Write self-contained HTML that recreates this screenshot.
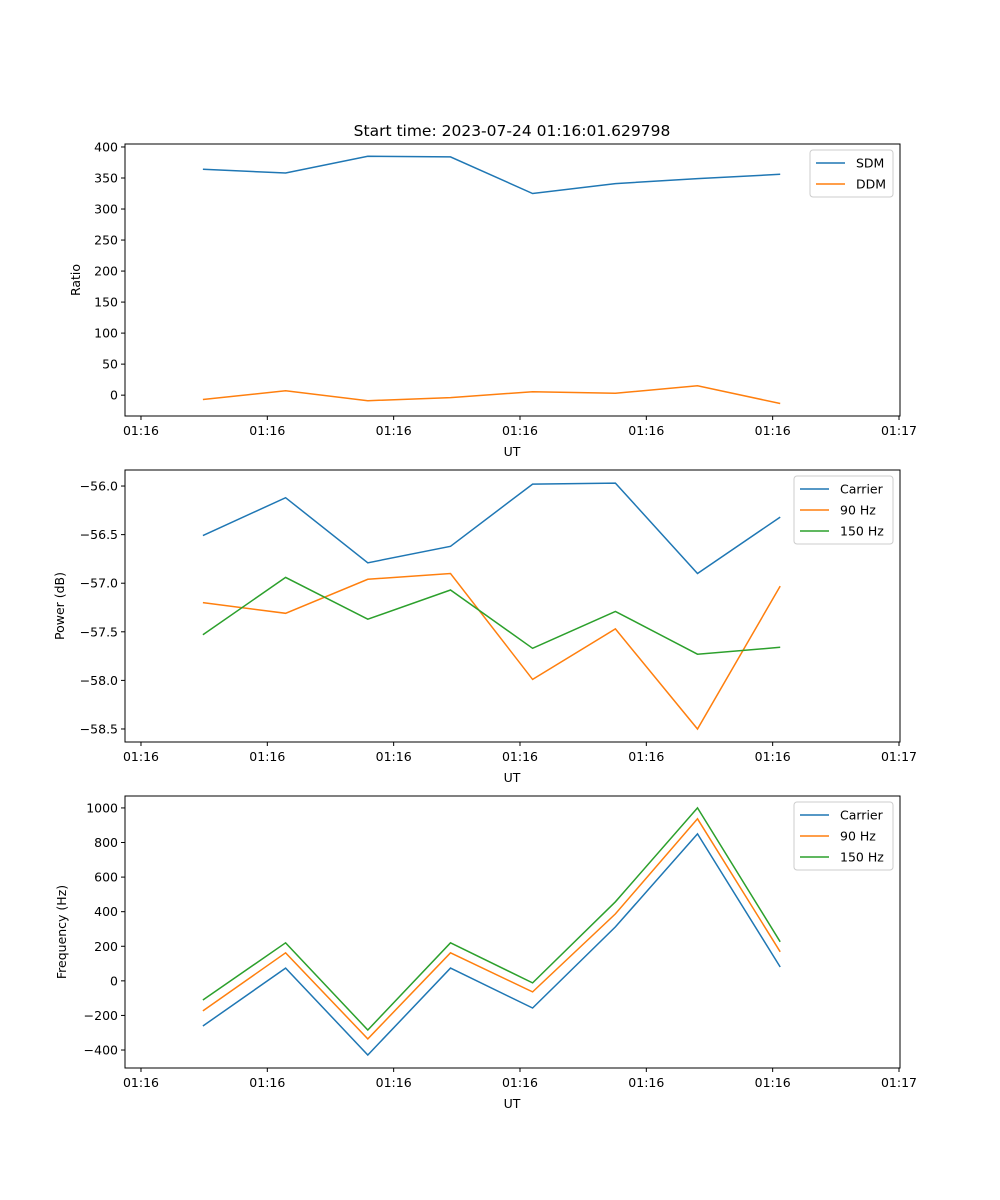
<!DOCTYPE html>
<html><head><meta charset="utf-8"><style>
html,body{margin:0;padding:0;background:#fff;}
svg{display:block;font-family:"DejaVu Sans","Liberation Sans",sans-serif;}
</style></head><body>
<svg id="fig" width="1000" height="1200" viewBox="0 0 1000 1200" xmlns="http://www.w3.org/2000/svg">
<rect width="1000" height="1200" fill="#fff"/>
<text x="512" y="136" font-size="15.5" text-anchor="middle" fill="#000">Start time: 2023-07-24 01:16:01.629798</text>
</svg>
<script>
// Data (times in seconds after 01:16:01.6)
const times = [0.098, 0.229, 0.359, 0.490, 0.620, 0.751, 0.881, 1.012];
const xTickVals = [0, 0.2, 0.4, 0.6, 0.8, 1.0, 1.2];
const xTickLabels = ["01:16","01:16","01:16","01:16","01:16","01:16","01:17"];
const sdm = [364, 358, 385, 384, 325, 341, 349, 356];
const ddm = [-7, 7, -9, -4, 5.6, 3, 15, -13.5];
const powCarrier = [-56.51, -56.12, -56.79, -56.62, -55.98, -55.97, -56.90, -56.32];
const pow90 = [-57.20, -57.31, -56.96, -56.90, -57.99, -57.47, -58.50, -57.03];
const pow150 = [-57.53, -56.94, -57.37, -57.07, -57.67, -57.29, -57.73, -57.66];
const frqCarrier = [-261, 74, -429, 74, -157, 312, 850, 80];
const frq90 = [-174, 162, -336, 162, -64, 387, 937, 168];
const frq150 = [-111, 220, -284, 220, -12, 457, 1000, 226];
const ratioTicks = [0,50,100,150,200,250,300,350,400];
const powTicks = [-58.5,-58.0,-57.5,-57.0,-56.5,-56.0];
const frqTicks = [-400,-200,0,200,400,600,800,1000];

const NS="http://www.w3.org/2000/svg";
const svg=document.getElementById('fig');
function mk(tag,attrs,parent){const e=document.createElementNS(NS,tag);for(const k in attrs)e.setAttribute(k,attrs[k]);(parent||svg).appendChild(e);return e;}
const L=125,R=900,xmin=-0.0253,xmax=1.2016;
function xs(v){return L+(v-xmin)/(xmax-xmin)*(R-L);}

function panel(name,top,bot,ymin,ymax,yticks,fmt,ylabel,series,legend){
  const g=mk('g',{});
  
  
  const ys=v=>bot-(v-ymin)/(ymax-ymin)*(bot-top);
  // series
  series.forEach(s=>{
    const p=mk('polyline',{points:s.d.map((v,i)=>xs(times[i]).toFixed(1)+','+ys(v).toFixed(1)).join(' '),fill:'none',stroke:s.c,'stroke-width':1.5},g);
    
    
  });
  const fr=mk('rect',{x:L,y:top,width:R-L,height:bot-top,fill:'none',stroke:'#000','stroke-width':1},g);
  
  
  // x ticks
  xTickVals.forEach((v,i)=>{
    const x=xs(v);
    mk('line',{x1:x,y1:bot,x2:x,y2:bot+4,stroke:'#000'},g);
    const t=mk('text',{x:x,y:bot+19,'font-size':12.5,'text-anchor':'middle'},g);
    t.textContent=xTickLabels[i];
    
    
  });
  const xl=mk('text',{x:512,y:bot+40,'font-size':12.5,'text-anchor':'middle'},g);
  xl.textContent='UT';
  
  
  yticks.forEach(v=>{
    const y=ys(v);
    mk('line',{x1:L-4,y1:y,x2:L,y2:y,stroke:'#000'},g);
    const t=mk('text',{x:L-7,y:y+4.5,'font-size':12.5,'text-anchor':'end'},g);
    t.textContent=fmt(v);
    
    
  });
  const yl=mk('text',{x:0,y:0,'font-size':12.5,'text-anchor':'middle',transform:`translate(${ylabel.x},${(top+bot)/2}) rotate(-90)`},g);
  yl.textContent=ylabel.t;
  
  
  // legend
  const lg=mk('g',{},g);
  
  
  mk('rect',{x:legend.x,y:top+6,width:893-legend.x,height:series.length*21+5,rx:3,fill:'#fff',stroke:'#ccc','fill-opacity':0.8},lg);
  series.forEach((s,i)=>{
    const y=top+19+i*21;
    mk('line',{x1:legend.x+6,y1:y,x2:legend.x+35,y2:y,stroke:s.c,'stroke-width':1.5},lg);
    const t=mk('text',{x:legend.x+46,y:y+4.5,'font-size':12.5},lg);
    t.textContent=s.label;
    
    
  });
}
const B='#1f77b4',O='#ff7f0e',G='#2ca02c';
panel('ratio',144,416,-33.6,404.8,ratioTicks,v=>String(v),{x:80,t:'Ratio'},
  [{id:'sdm',d:sdm,c:B,label:'SDM'},{id:'ddm',d:ddm,c:O,label:'DDM'}],{x:810});
panel('power',470,742,-58.634,-55.835,powTicks,v=>(v<0?'\u2212':'')+Math.abs(v).toFixed(1),{x:64,t:'Power (dB)'},
  [{id:'carrier',d:powCarrier,c:B,label:'Carrier'},{id:'90hz',d:pow90,c:O,label:'90 Hz'},{id:'150hz',d:pow150,c:G,label:'150 Hz'}],{x:794});
panel('frequency',796,1068,-504,1069,frqTicks,v=>(v<0?'\u2212':'')+Math.abs(v),{x:66,t:'Frequency (Hz)'},
  [{id:'carrier',d:frqCarrier,c:B,label:'Carrier'},{id:'90hz',d:frq90,c:O,label:'90 Hz'},{id:'150hz',d:frq150,c:G,label:'150 Hz'}],{x:794});
</script>
</body></html>
